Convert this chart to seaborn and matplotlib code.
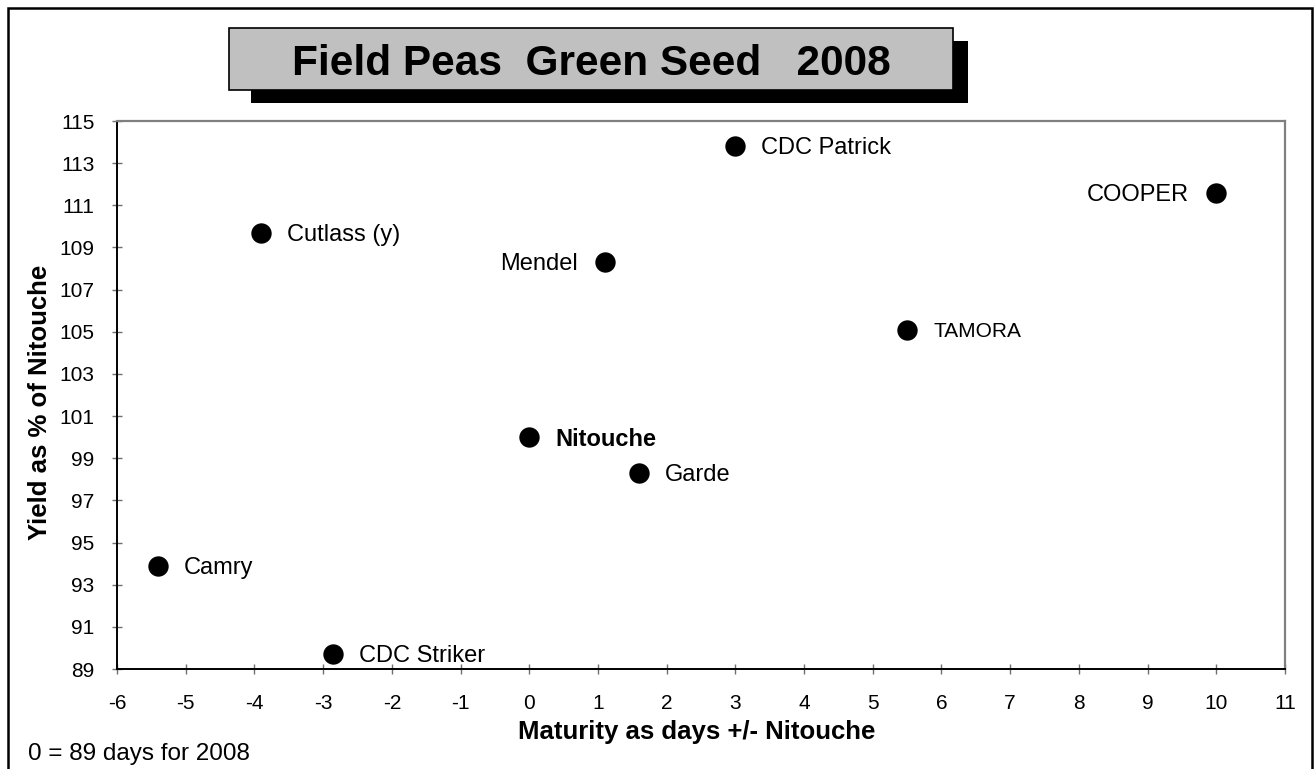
import matplotlib
matplotlib.use('Agg')
import matplotlib.pyplot as plt
import seaborn as sns
import pandas as pd
from matplotlib.patches import Rectangle

# ---- data ----
varieties = ["CDC Patrick", "COOPER", "Cutlass (y)", "Mendel", "TAMORA",
             "Nitouche", "Garde", "Camry", "CDC Striker"]
maturity_days = [3.0, 10.0, -3.9, 1.1, 5.5, 0.0, 1.6, -5.4, -2.85]
yield_pct = [113.8, 111.6, 109.7, 108.3, 105.1, 100.0, 98.3, 93.9, 89.7]
x_ticks = list(range(-6, 12))
y_ticks = list(range(89, 116, 2))
title_text = "Field Peas  Green Seed   2008"
x_label = "Maturity as days +/- Nitouche"
y_label = "Yield as % of Nitouche"
footnote = "0 = 89 days for 2008"

# label styling (not data)
left_labels = {"COOPER", "Mendel"}
bold_labels = {"Nitouche"}
small_labels = {"TAMORA"}

W, H = 1314, 769
sns.set_theme(style="white")
plt.rcParams['font.family'] = ['Liberation Sans', 'DejaVu Sans']

fig = plt.figure(figsize=(W / 100, H / 100), dpi=100)
fig.patch.set_facecolor('white')


def fx(px):
    return px / W


def fy(py):
    return 1 - py / H


# outer border
fig.patches.append(Rectangle((fx(8), fy(775)), fx(1312) - fx(8), fy(8) - fy(775),
                             transform=fig.transFigure, fill=False,
                             edgecolor='black', linewidth=1.8, zorder=0))

ax = fig.add_axes([fx(117), fy(669), fx(1285) - fx(117), fy(121) - fy(669)])

df = pd.DataFrame({"variety": varieties, "maturity": maturity_days, "yield": yield_pct})
sns.scatterplot(data=df, x="maturity", y="yield", ax=ax, color="black",
                s=215, linewidth=0, legend=False, zorder=3)

for name, xv, yv in zip(varieties, maturity_days, yield_pct):
    left = name in left_labels
    ax.annotate(name, (xv, yv), xytext=(-27 if left else 26, -2),
                textcoords='offset pixels', ha='right' if left else 'left',
                va='center', fontsize=15 if name in small_labels else 17,
                fontweight='bold' if name in bold_labels else 'normal',
                color='black', zorder=4)

ax.set_xlim(-6, 11)
ax.set_ylim(89, 115)
ax.set_xticks(x_ticks)
ax.set_yticks(y_ticks)
ax.set_xticklabels([str(t) for t in x_ticks])
ax.set_yticklabels([str(t) for t in y_ticks])
ax.tick_params(axis='both', direction='inout', length=7.5, width=1.0,
               color='#707070', labelsize=15, labelcolor='black')
ax.tick_params(axis='x', pad=14, bottom=True)
ax.tick_params(axis='y', pad=12.5, left=True)

for side in ['left', 'bottom']:
    ax.spines[side].set_color('black')
    ax.spines[side].set_linewidth(1.4)
for side in ['top', 'right']:
    ax.spines[side].set_color('#808080')
    ax.spines[side].set_linewidth(1.6)

ax.set_xlabel(x_label, fontsize=18.5, fontweight='bold', color='black')
ax.set_ylabel(y_label, fontsize=18.5, fontweight='bold', color='black')
ax.xaxis.set_label_coords((697 - 117) / 1168, -0.093)
ax.yaxis.set_label_coords(-0.0557, 0.487)

# title box with shadow
fig.patches.append(Rectangle((fx(251), fy(103)), fx(968) - fx(251), fy(41) - fy(103),
                             transform=fig.transFigure, facecolor='black',
                             edgecolor='black', linewidth=0, zorder=5))
fig.patches.append(Rectangle((fx(229), fy(90)), fx(953) - fx(229), fy(28) - fy(90),
                             transform=fig.transFigure, facecolor='#C0C0C0',
                             edgecolor='black', linewidth=1.2, zorder=6))
fig.text(fx(591), fy(75), title_text, ha='center', va='baseline',
         fontsize=30.5, fontweight='bold', color='black', zorder=7)

fig.text(fx(28), fy(760), footnote, ha='left', va='baseline',
         fontsize=17.5, color='black')

fig.savefig("out.png", dpi=100, facecolor='white')
